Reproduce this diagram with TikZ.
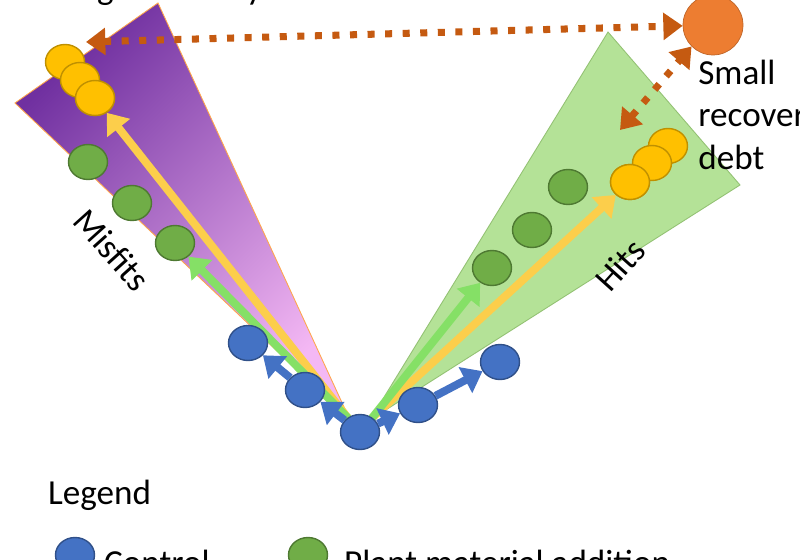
\documentclass[tikz,border=0pt]{standalone}
\usepackage{fontspec}
\setmainfont{Carlito}
\usetikzlibrary{arrows.meta,shapes.geometric}
\definecolor{ctrlblue}{HTML}{4472C4}
\definecolor{plantgreen}{HTML}{70AD47}
\definecolor{gold}{HTML}{FFC000}
\definecolor{rust}{HTML}{C55A11}
\definecolor{debtorange}{HTML}{ED7D31}
\definecolor{deeppurple}{HTML}{7030A0}
\definecolor{palepink}{HTML}{F4B8F4}
\tikzset{
    dot/.style={ellipse,draw,line width=0.8pt,minimum width=0.78cm,minimum height=0.7cm,inner sep=0pt},
    ctrl/.style={dot,fill=ctrlblue,draw=ctrlblue!70!black},
    plant/.style={dot,fill=plantgreen,draw=plantgreen!70!black},
    gain/.style={dot,fill=gold,draw=gold!75!black},
    path/.style={line width=4.5pt,-{Triangle[length=11pt,width=16pt]}},
    debt/.style={rust,line width=4pt,dash pattern=on 4pt off 6pt,{Triangle[length=11pt,width=15pt]}-{Triangle[length=11pt,width=15pt]}},
    lbl/.style={font=\fontsize{20}{24}\selectfont}
}
\begin{document}
\begin{tikzpicture}[x=0.02cm,y=-0.02cm]
                    \useasboundingbox (0,0) rectangle (800,560);
                    \clip (0,0) rectangle (800,560);
                    % Wedges
                    \shade[left color=deeppurple,right color=palepink,shading angle=45,draw=orange!70,line width=0.5pt]
                        (15,103) -- (158,3) -- (350,420) -- cycle;
                    \fill[green!45!olive!45,opacity=0.9,draw=plantgreen!80,line width=0.5pt]
                        (370,420) -- (608,32) -- (740,185) -- cycle;
                    \coordinate (apexL) at (348,418);
                    \coordinate (apexR) at (372,418);
                    % Yellow and green paths
                    \node[gain] (yl3) at (95,98) {};
                    \node[gain] (yr3) at (630,182) {};
                    \draw[path,color=yellow!50!orange!70] (apexL) -- (yl3);
                    \draw[path,color=yellow!50!orange!70] (apexR) -- (yr3);
                    \node[plant] (gl1) at (175,243) {};
                    \node[plant] (gl2) at (132,203) {};
                    \node[plant] (gl3) at (88,162) {};
                    \node[plant] (gr1) at (492,268) {};
                    \node[plant] (gr2) at (532,230) {};
                    \node[plant] (gr3) at (568,187) {};
                    \draw[path,color=green!60!olive!60] (apexL) -- (gl1);
                    \draw[path,color=green!60!olive!60] (apexR) -- (gr1);
                    % Yellow dots
                    \node[gain] (yl1) at (65,62) {};
                    \node[gain] (yl2) at (80,80) {};
                    \node[gain] at (95,98) {};
                    \node[gain] (yr1) at (668,146) {};
                    \node[gain] (yr2) at (652,163) {};
                    \node[gain] at (630,182) {};
                    % Control
                    \node[ctrl] (c0) at (360,432) {};
                    \node[ctrl] (c1) at (305,390) {};
                    \node[ctrl] (c2) at (248,343) {};
                    \node[ctrl] (c3) at (418,405) {};
                    \node[ctrl] (c4) at (500,362) {};
                    \draw[path,ctrlblue] (c0) -- (c1);
                    \draw[path,ctrlblue] (c1) -- (c2);
                    \draw[path,ctrlblue] (c0) -- (c3);
                    \draw[path,ctrlblue] (c3) -- (c4);
                    % Debt
                    \node[circle,fill=debtorange,draw=debtorange!80!black,minimum size=1.2cm] (big) at (713,25) {};
                    \coordinate (farL) at (86,42);
                    \coordinate (nearR) at (620,130);
                    \draw[debt] (farL) -- (big);
                    \draw[debt] (nearR) -- (big.south west);
                    % Labels
                    \node[lbl] (top) at (195,-10) {Large recovery debt};
                    \node[lbl,anchor=north west,align=left,inner sep=0pt] (small) at (698,60) {Small\\recovery\\debt};
                    \node[lbl,rotate=-48] (mis) at (112,250) {Misfits};
                    \node[lbl,rotate=48] (hits) at (620,265) {Hits};
                    % Legend
                    \node[lbl,anchor=west] (leg) at (42,495) {Legend};
                    \node[ctrl] (lc) at (75,555) {};
                    \node[lbl,anchor=west] (lct) at (98,562) {Control};
                    \node[plant] (lp) at (308,555) {};
                    \node[lbl,anchor=west] (lpt) at (338,562) {Plant material addition};
                \end{tikzpicture}
\end{document}
